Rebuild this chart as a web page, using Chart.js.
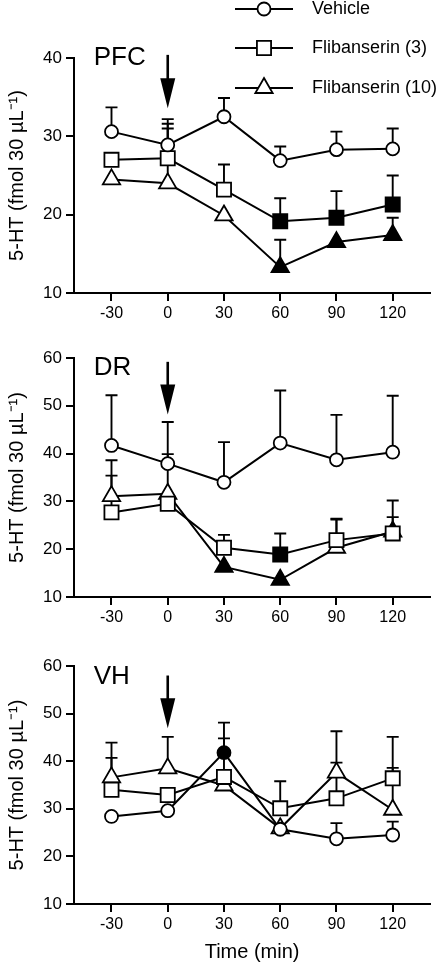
<!DOCTYPE html>
<html>
<head>
<meta charset="utf-8">
<script src="https://cdn.jsdelivr.net/npm/chart.js@4.4.0/dist/chart.umd.min.js"></script>
<style>
  html, body { margin: 0; padding: 0; background: #fff; }
  #wrap { position: relative; width: 442px; height: 965px; }
  #wrap canvas { position: absolute; left: 0; }
</style>
</head>
<body>
<div id="wrap">
  <canvas id="pfc" width="442" height="330" style="top:0px"></canvas>
  <canvas id="dr" width="442" height="300" style="top:330px"></canvas>
  <canvas id="vh" width="442" height="335" style="top:630px"></canvas>
</div>
<script>
const times = [-30, 0, 30, 60, 90, 120];
const timeLabels = ["-30", "0", "30", "60", "90", "120"];
const seriesNames = ["Vehicle", "Flibanserin (3)", "Flibanserin (10)"];

// PFC (mean, SEM, filled = significant)
const pfcVehicle = [30.6, 28.9, 32.5, 26.9, 28.3, 28.4];
const pfcVehicleSem = [3.1, 3.3, 2.4, 1.8, 2.3, 2.6];
const pfcVehicleSig = [0, 0, 0, 0, 0, 0];
const pfcFlib3 = [27.0, 27.2, 23.2, 19.15, 19.6, 21.3];
const pfcFlib3Sem = [null, 4.4, 3.2, 2.95, 3.4, 3.7];
const pfcFlib3Sig = [0, 0, 0, 1, 1, 1];
const pfcFlib10 = [24.5, 24.0, 19.9, 13.3, 16.5, 17.4];
const pfcFlib10Sem = [null, 7.0, null, 3.5, null, 2.2];
const pfcFlib10Sig = [0, 0, 0, 1, 1, 1];

// DR
const drVehicle = [41.7, 37.9, 34.0, 42.2, 38.7, 40.3];
const drVehicleSem = [10.5, 8.7, 8.4, 11.0, 9.4, 11.8];
const drVehicleSig = [0, 0, 0, 0, 0, 0];
const drFlib3 = [27.7, 29.5, 20.3, 18.9, 21.9, 23.3];
const drFlib3Sem = [7.7, null, 2.7, 4.4, 4.5, 6.9];
const drFlib3Sig = [0, 0, 0, 1, 0, 0];
const drFlib10 = [31.1, 31.6, 16.3, 13.6, 20.3, 23.7];
const drFlib10Sem = [7.5, 8.3, null, null, 5.9, 3.0];
const drFlib10Sig = [0, 0, 1, 1, 0, 1];

// VH
const vhVehicle = [28.4, 29.6, 41.8, 25.7, 23.7, 24.5];
const vhVehicleSem = [null, null, 6.3, null, 3.3, 2.8];
const vhVehicleSig = [0, 0, 1, 0, 0, 0];
const vhFlib3 = [34.0, 32.9, 36.7, 30.1, 32.2, 36.4];
const vhFlib3Sem = [6.7, null, 8.1, 5.7, 7.5, 8.7];
const vhFlib3Sig = [0, 0, 0, 0, 0, 0];
const vhFlib10 = [36.6, 38.5, 34.9, 25.9, 37.6, 29.8];
const vhFlib10Sem = [7.3, 6.6, null, null, 8.7, 8.8];
const vhFlib10Sig = [0, 0, 0, 0, 0, 0];

const FONT = "'Liberation Sans', Arial, Helvetica, sans-serif";
const pointStyles = ["circle", "rect", "triangle"];
const pointRadii = [6.5, 10, 10];

function makeSet(i, means, sem, sig) {
  return {
    label: seriesNames[i],
    data: times.map((t, k) => ({ x: t, y: means[k] })),
    sem: sem,
    borderColor: "#000",
    borderWidth: 2,
    pointStyle: pointStyles[i],
    pointRadius: pointRadii[i],
    pointBorderColor: "#000",
    pointBorderWidth: 1.8,
    pointBackgroundColor: sig.map(s => (s ? "#000" : "#fff")),
    tension: 0,
    order: i,
  };
}

// error bars (upper half only), drawn under the markers
const errorBars = {
  id: "errorBars",
  beforeDatasetsDraw(chart) {
    const ctx = chart.ctx;
    const ys = chart.scales.y;
    ctx.save();
    ctx.strokeStyle = "#000";
    ctx.lineWidth = 1.9;
    chart.data.datasets.forEach((ds, i) => {
      const meta = chart.getDatasetMeta(i);
      ds.data.forEach((p, k) => {
        const e = ds.sem[k];
        if (e == null) return;
        const x = meta.data[k].x;
        const y0 = ys.getPixelForValue(p.y);
        const y1 = ys.getPixelForValue(p.y + e);
        ctx.beginPath();
        ctx.moveTo(x, y0);
        ctx.lineTo(x, y1);
        ctx.moveTo(x - 6, y1);
        ctx.lineTo(x + 6, y1);
        ctx.stroke();
      });
    });
    ctx.restore();
  },
};

// arrow, region label and legend
const decor = {
  id: "decor",
  afterDraw(chart) {
    const ctx = chart.ctx;
    const o = chart.options.plugins.decor;
    const xs = chart.scales.x, ys = chart.scales.y;
    ctx.save();
    // injection arrow
    const ax = xs.getPixelForValue(o.arrow[0]);
    const aTop = ys.getPixelForValue(o.arrow[1]);
    const aTip = ys.getPixelForValue(o.arrow[2]);
    ctx.strokeStyle = "#000";
    ctx.fillStyle = "#000";
    ctx.lineWidth = 2.6;
    ctx.beginPath();
    ctx.moveTo(ax, aTop);
    ctx.lineTo(ax, aTip - 25);
    ctx.stroke();
    ctx.beginPath();
    ctx.moveTo(ax - 7.5, aTip - 30);
    ctx.lineTo(ax + 7.5, aTip - 30);
    ctx.lineTo(ax, aTip);
    ctx.closePath();
    ctx.fill();
    // region label
    ctx.font = "26px " + FONT;
    ctx.textBaseline = "alphabetic";
    ctx.textAlign = "left";
    ctx.fillText(o.label, xs.getPixelForValue(o.labelAt[0]), ys.getPixelForValue(o.labelAt[1]));
    // legend
    if (o.legend) {
      const rows = [9, 48, 88];
      chart.data.datasets.forEach((ds, i) => {
        const y = rows[i];
        ctx.strokeStyle = "#000";
        ctx.lineWidth = 2;
        ctx.beginPath();
        ctx.moveTo(235, y);
        ctx.lineTo(293, y);
        ctx.stroke();
        ctx.fillStyle = "#fff";
        ctx.lineWidth = 1.8;
        Chart.helpers.drawPoint(ctx, {
          pointStyle: ds.pointStyle, radius: ds.pointRadius, rotation: 0, borderWidth: 1.8,
        }, 264, y);
        ctx.fillStyle = "#000";
        ctx.font = "18px " + FONT;
        ctx.textBaseline = "middle";
        ctx.fillText(ds.label, 312, y);
      });
    }
    ctx.restore();
  },
};

function makeChart(id, sets, p) {
  return new Chart(document.getElementById(id), {
    type: "line",
    data: { datasets: sets },
    plugins: [errorBars, decor],
    options: {
      responsive: false,
      animation: false,
      events: [],
      layout: { padding: { top: p.top, left: 0, right: 5, bottom: 0 } },
      plugins: {
        legend: { display: false },
        tooltip: { enabled: false },
        decor: { arrow: p.arrow, label: p.label, labelAt: p.labelAt, legend: p.legend },
      },
      scales: {
        x: {
          type: "linear",
          min: -50,
          max: 140,
          afterBuildTicks: s => { s.ticks = times.map(v => ({ value: v })); },
          afterFit: s => { s.height = p.xHeight; },
          ticks: {
            color: "#000",
            font: { family: FONT, size: 16 },
            padding: 3,
            callback: v => timeLabels[times.indexOf(v)],
          },
          grid: { drawOnChartArea: false, drawTicks: true, tickLength: 8, color: "#000", lineWidth: 2 },
          border: { display: true, color: "#000", width: 2 },
          title: {
            display: !!p.xTitle,
            text: p.xTitle || "",
            color: "#000",
            font: { family: FONT, size: 20 },
            padding: { top: 0, bottom: 1 },
          },
        },
        y: {
          min: p.yMin,
          max: p.yMax,
          afterFit: s => { s.width = 74; },
          ticks: {
            stepSize: 10,
            color: "#000",
            font: { family: FONT, size: 17 },
            padding: 4,
          },
          grid: { drawOnChartArea: false, drawTicks: true, tickLength: 8, color: "#000", lineWidth: 2 },
          border: { display: true, color: "#000", width: 2 },
          title: {
            display: true,
            text: "5-HT (fmol 30 µL⁻¹)",
            color: "#000",
            font: { family: FONT, size: 20 },
            padding: { top: 5, bottom: 0 },
          },
        },
      },
    },
  });
}

makeChart("pfc", [
  makeSet(0, pfcVehicle, pfcVehicleSem, pfcVehicleSig),
  makeSet(1, pfcFlib3, pfcFlib3Sem, pfcFlib3Sig),
  makeSet(2, pfcFlib10, pfcFlib10Sem, pfcFlib10Sig),
], { top: 58, xHeight: 37, yMin: 10, yMax: 40, arrow: [0, 40.4, 33.6], label: "PFC", labelAt: [-39.5, 39.1], legend: true });

makeChart("dr", [
  makeSet(0, drVehicle, drVehicleSem, drVehicleSig),
  makeSet(1, drFlib3, drFlib3Sem, drFlib3Sig),
  makeSet(2, drFlib10, drFlib10Sem, drFlib10Sig),
], { top: 28, xHeight: 33, yMin: 10, yMax: 60, arrow: [0, 59.2, 48.2], label: "DR", labelAt: [-39.5, 56.5], legend: false });

makeChart("vh", [
  makeSet(0, vhVehicle, vhVehicleSem, vhVehicleSig),
  makeSet(1, vhFlib3, vhFlib3Sem, vhFlib3Sig),
  makeSet(2, vhFlib10, vhFlib10Sem, vhFlib10Sig),
], { top: 36, xHeight: 61, yMin: 10, yMax: 60, arrow: [0, 58.0, 46.9], label: "VH", labelAt: [-39.5, 56.2], legend: false, xTitle: "Time (min)" });
</script>
</body>
</html>
